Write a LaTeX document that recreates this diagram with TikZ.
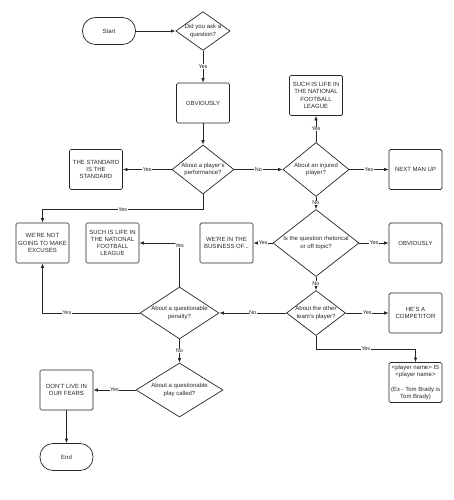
\documentclass[tikz,border=0pt]{standalone}
\usepackage{fontspec}
\setmainfont{Liberation Sans}
\usetikzlibrary{shapes.geometric,arrows.meta}

\begin{document}
\begin{tikzpicture}[x=1pt,y=-1pt,
  every node/.style={font=\fontsize{6}{7.2}\selectfont,text=black!85},
  box/.style={draw,rounded corners=1.5pt,minimum width=53pt,minimum height=40pt,align=center,inner sep=1pt},
  term/.style={draw,rounded corners=13pt,minimum width=53pt,minimum height=27pt},
  decision/.style={draw,diamond,inner sep=0pt,align=center},
  lbl/.style={fill=white,inner sep=0.5pt,font=\fontsize{5.5}{6.6}\selectfont},
  >={Latex[length=4.5pt,width=3.5pt]},
  line width=0.7pt, draw=black!85]

\useasboundingbox (0,0) rectangle (453,500);

\node[term] (start) at (109,31) {Start};
\node[decision,minimum width=54pt,minimum height=38pt,aspect=1.4] (ask) at (203,31) {Did you ask a\\question?};
\node[box] (obv) at (203,103) {OBVIOUSLY};
\node[decision,minimum width=62pt,minimum height=49pt,aspect=1.3] (perf) at (203,169.5) {About a player's\\performance?};
\node[box] (std) at (96,169.5) {THE STANDARD\\IS THE\\STANDARD};
\node[decision,minimum width=66pt,minimum height=54pt,aspect=1.3] (inj) at (316,169.5) {About an injured\\player?};
\node[box] (life) at (316,95.5) {SUCH IS LIFE IN\\THE NATIONAL\\FOOTBALL\\LEAGUE};
\node[box] (next) at (415.5,169.5) {NEXT MAN UP};
\node[box] (excuse) at (42.5,243) {WE'RE NOT\\GOING TO MAKE\\EXCUSES};
\node[box] (life2) at (112.5,243) {SUCH IS LIFE IN\\THE NATIONAL\\FOOTBALL\\LEAGUE};
\node[box] (biz) at (226.5,243) {WE'RE IN THE\\BUSINESS OF...};
\node[decision,minimum width=86pt,minimum height=67pt,aspect=1.4] (rhet) at (316,243) {Is the question rhetorical\\or off topic?};
\node[box] (obv2) at (415.5,243) {OBVIOUSLY};
\node[decision,minimum width=59pt,minimum height=45pt,aspect=1.33] (other) at (316,313) {About the other\\team's player?};
\node[box] (comp) at (415.5,313) {HE'S A\\COMPETITOR};
\node[box] (pname) at (415.5,382.5) {<player name> IS\\<player name>\\[7.2pt](Ex - Tom Brady is\\Tom Brady)};
\node[decision,minimum width=79pt,minimum height=52pt,aspect=1.6] (pen) at (179.5,313) {About a questionable\\penalty?};
\node[decision,minimum width=87pt,minimum height=54pt,aspect=1.7] (call) at (179.5,390) {About a questionable\\play called?};
\node[box] (fears) at (66.5,390) {DON'T LIVE IN\\OUR FEARS};
\node[term] (end) at (66.5,457) {End};

\draw[->] (start) -- (ask);
\draw[->] (ask) -- node[lbl] {Yes} (obv);
\draw[->] (obv) -- (perf);
\draw[->] (perf) -- node[lbl] {Yes} (std);
\draw[->] (perf) -- node[lbl] {No} (inj);
\draw[->] (perf.south) -- ++(0,15) -| node[lbl,pos=0.25] {Yes} (excuse.north);
\draw[->] (inj) -- node[lbl] {Yes} (life);
\draw[->] (inj) -- node[lbl] {Yes} (next);
\draw[->] (inj) -- node[lbl] {No} (rhet);
\draw[->] (rhet) -- node[lbl] {Yes} (biz);
\draw[->] (rhet) -- node[lbl] {Yes} (obv2);
\draw[->] (rhet) -- node[lbl] {No} (other);
\draw[->] (other) -- node[lbl] {Yes} (comp);
\draw[->] (other) -- node[lbl] {No} (pen);
\draw[->] (other.south) -- ++(0,13) -| node[lbl,pos=0.25] {Yes} (pname.north);
\draw[->] (pen.west) -| node[lbl,pos=0.375] {Yes} (excuse.south);
\draw[->] (pen.north) |- node[lbl,pos=0.47] {Yes} (life2.east);
\draw[->] (pen) -- node[lbl] {No} (call);
\draw[->] (call) -- node[lbl] {Yes} (fears);
\draw[->] (fears) -- (end);

\end{tikzpicture}
\end{document}
